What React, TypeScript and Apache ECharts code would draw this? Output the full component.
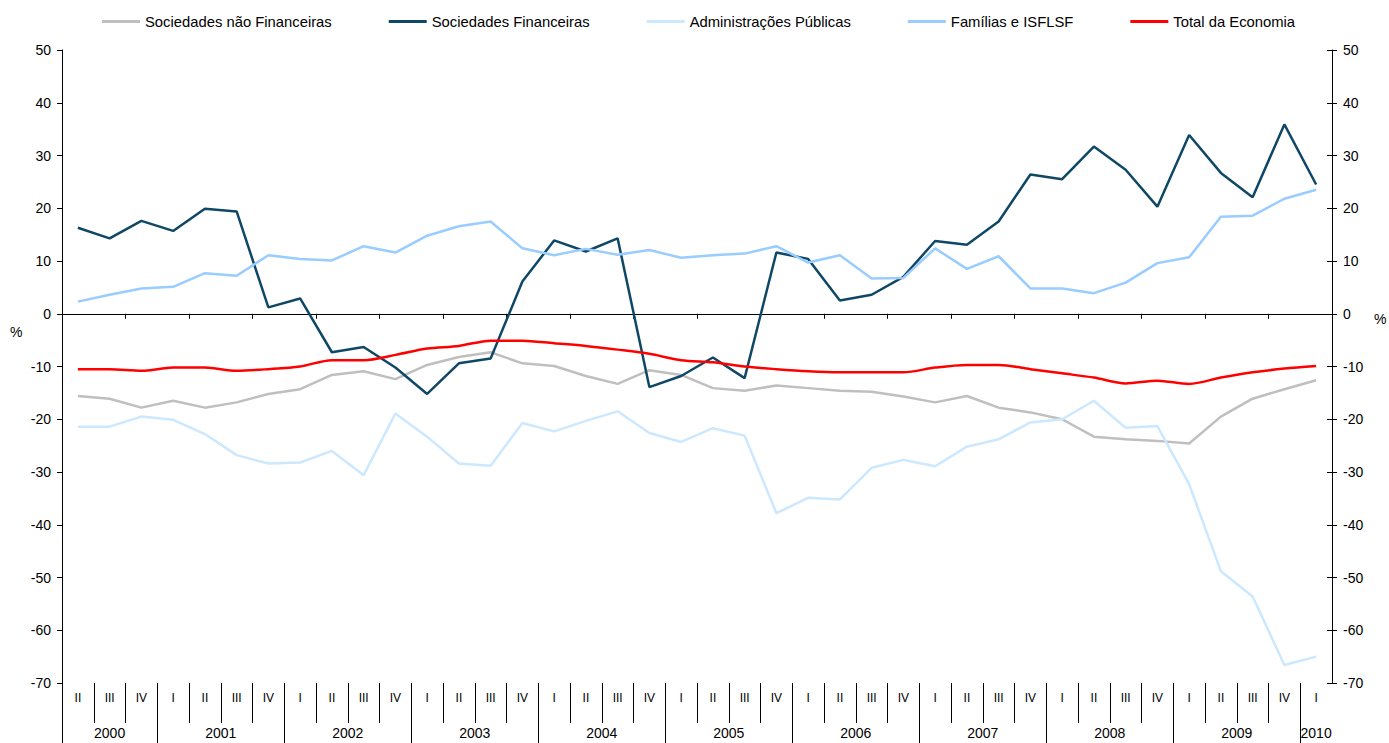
import React, { useEffect, useRef } from "react";
import * as echarts from "echarts";

const categories = [
  "2000 II", "2000 III", "2000 IV",
  "2001 I", "2001 II", "2001 III", "2001 IV",
  "2002 I", "2002 II", "2002 III", "2002 IV",
  "2003 I", "2003 II", "2003 III", "2003 IV",
  "2004 I", "2004 II", "2004 III", "2004 IV",
  "2005 I", "2005 II", "2005 III", "2005 IV",
  "2006 I", "2006 II", "2006 III", "2006 IV",
  "2007 I", "2007 II", "2007 III", "2007 IV",
  "2008 I", "2008 II", "2008 III", "2008 IV",
  "2009 I", "2009 II", "2009 III", "2009 IV",
  "2010 I",
];

const sociedadesNaoFinanceiras = [
  -15.6, -16.1, -17.8, -16.5, -17.8, -16.8, -15.2, -14.3, -11.6, -10.9,
  -12.4, -9.7, -8.2, -7.3, -9.4, -9.9, -11.8, -13.3, -10.7, -11.6,
  -14.1, -14.6, -13.6, -14.1, -14.6, -14.8, -15.7, -16.8, -15.6, -17.8,
  -18.7, -20.0, -23.3, -23.8, -24.1, -24.6, -19.5, -16.1, -14.3, -12.6,
];

const sociedadesFinanceiras = [
  16.3, 14.3, 17.6, 15.7, 19.9, 19.4, 1.2, 2.9, -7.3, -6.3,
  -10.2, -15.2, -9.4, -8.5, 6.1, 13.9, 11.8, 14.3, -13.9, -11.8,
  -8.3, -12.2, 11.6, 10.4, 2.5, 3.6, 7.0, 13.8, 13.1, 17.5,
  26.4, 25.5, 31.7, 27.3, 20.3, 33.9, 26.7, 22.1, 35.9, 24.5,
];

const administracoesPublicas = [
  -21.4, -21.4, -19.5, -20.1, -22.8, -26.8, -28.4, -28.2, -26.0, -30.6,
  -18.9, -23.3, -28.4, -28.8, -20.7, -22.3, -20.3, -18.5, -22.6, -24.3,
  -21.7, -23.1, -37.8, -34.9, -35.2, -29.2, -27.7, -28.9, -25.2, -23.8,
  -20.6, -20.0, -16.5, -21.6, -21.3, -32.3, -48.8, -53.6, -66.6, -65.0,
];

const familiasIsflsf = [
  2.3, 3.6, 4.8, 5.1, 7.7, 7.2, 11.1, 10.4, 10.1, 12.8,
  11.6, 14.8, 16.6, 17.5, 12.4, 11.1, 12.3, 11.2, 12.1, 10.6,
  11.1, 11.4, 12.8, 9.7, 11.1, 6.7, 6.8, 12.4, 8.5, 10.9,
  4.8, 4.8, 3.9, 5.9, 9.6, 10.7, 18.4, 18.6, 21.8, 23.5,
];

const totalEconomia = [
  -10.5, -10.5, -10.8, -10.2, -10.2, -10.8, -10.5, -10.0, -8.8, -8.8,
  -7.8, -6.6, -6.1, -5.1, -5.1, -5.6, -6.1, -6.8, -7.6, -8.8,
  -9.2, -10.0, -10.5, -10.9, -11.1, -11.1, -11.1, -10.2, -9.7, -9.7,
  -10.5, -11.3, -12.1, -13.2, -12.7, -13.3, -12.1, -11.1, -10.4, -9.9,
];

const seriesNames = [
  "Sociedades não Financeiras",
  "Sociedades Financeiras",
  "Administrações Públicas",
  "Famílias e ISFLSF",
  "Total da Economia",
];
const seriesColors = ["#BFBFBF", "#0F4866", "#CCE8FF", "#99CCFF", "#FF0000"];

const yTicksMin = -70;
const yTicksMax = 50;
const yTicksStep = 10;

export default function App() {
  const ref = useRef<HTMLDivElement>(null);

  useEffect(() => {
    if (!ref.current) return;
    const chart = echarts.init(ref.current, undefined, { renderer: "svg" });

    // Half-quarter grid (81 points) used for the two-level bottom axis
    const n = categories.length;
    const quarterHalf: string[] = [];
    const yearHalf: string[] = [];
    for (let k = 0; k <= 2 * n; k++) {
      quarterHalf.push(k % 2 === 1 ? categories[(k - 1) / 2].split(" ")[1] : "");
      yearHalf.push("");
    }
    const yearBoundaries = new Set<number>();
    let s = 0;
    while (s < n) {
      const yr = categories[s].split(" ")[0];
      let c = 0;
      while (s + c < n && categories[s + c].split(" ")[0] === yr) c++;
      yearBoundaries.add(2 * s);
      yearHalf[2 * s + c] = yr;
      s += c;
    }

    const seriesData = [
      sociedadesNaoFinanceiras,
      sociedadesFinanceiras,
      administracoesPublicas,
      familiasIsflsf,
      totalEconomia,
    ];

    const fontFamily = "Liberation Sans, Arial, sans-serif";
    const axisFont = { fontFamily, color: "#000" };

    chart.setOption({
      animation: false,
      backgroundColor: "#fff",
      textStyle: { fontFamily },
      grid: { left: 62, right: 57, top: 50, bottom: 60, containLabel: false },
      legend: {
        left: 97,
        top: 9,
        icon: "rect",
        itemWidth: 38,
        itemHeight: 3,
        itemGap: 57,
        textStyle: { fontSize: 14.8, color: "#000", fontFamily },
        data: seriesNames,
      },
      xAxis: [
        {
          type: "category",
          data: categories,
          boundaryGap: true,
          axisLine: { show: true, onZero: true, lineStyle: { color: "#000", width: 1 } },
          axisTick: { show: true, length: 5, lineStyle: { color: "#000" } },
          axisLabel: { show: false },
          splitLine: { show: false },
        },
        {
          type: "category",
          data: quarterHalf,
          boundaryGap: false,
          position: "bottom",
          axisLine: { show: false, onZero: false },
          axisTick: {
            show: true,
            length: 40,
            interval: (idx: number) => idx % 2 === 0 && idx < 2 * n,
            lineStyle: { color: "#000" },
          },
          axisLabel: { show: true, interval: 0, margin: 9, fontSize: 12, ...axisFont },
          splitLine: { show: false },
        },
        {
          type: "category",
          data: yearHalf,
          boundaryGap: false,
          position: "bottom",
          axisLine: { show: false, onZero: false },
          axisTick: {
            show: true,
            length: 60,
            interval: (idx: number) => yearBoundaries.has(idx),
            lineStyle: { color: "#000" },
          },
          axisLabel: { show: true, interval: 0, margin: 43, fontSize: 14, ...axisFont },
          splitLine: { show: false },
        },
      ],
      yAxis: [
        {
          type: "value",
          position: "left",
          min: yTicksMin,
          max: yTicksMax,
          interval: yTicksStep,
          axisLine: { show: true, lineStyle: { color: "#000" } },
          axisTick: { show: true, length: 5, lineStyle: { color: "#000" } },
          axisLabel: { fontSize: 14, margin: 11, ...axisFont },
          splitLine: { show: false },
        },
        {
          type: "value",
          position: "right",
          min: yTicksMin,
          max: yTicksMax,
          interval: yTicksStep,
          axisLine: { show: true, lineStyle: { color: "#000" } },
          axisTick: { show: true, length: 5, lineStyle: { color: "#000" } },
          axisLabel: { fontSize: 14, margin: 11, ...axisFont },
          splitLine: { show: false },
        },
        {
          type: "value",
          position: "right",
          min: yTicksMin,
          max: yTicksMax,
          interval: yTicksStep,
          axisLine: { show: false },
          axisTick: { show: true, inside: true, length: 5, lineStyle: { color: "#000" } },
          axisLabel: { show: false },
          splitLine: { show: false },
        },
      ],
      graphic: [
        {
          type: "text",
          left: 10,
          top: 325,
          style: { text: "%", fontSize: 14, fill: "#000", fontFamily },
        },
        {
          type: "text",
          left: 1374,
          top: 312,
          style: { text: "%", fontSize: 14, fill: "#000", fontFamily },
        },
      ],
      series: seriesNames.map((name, i) => ({
        name,
        type: "line",
        xAxisIndex: 0,
        yAxisIndex: 0,
        data: seriesData[i],
        symbol: "none",
        showSymbol: false,
        smooth: i === 4 ? 0.3 : false,
        lineStyle: { color: seriesColors[i], width: 2.5 },
        itemStyle: { color: seriesColors[i] },
        emphasis: { disabled: true },
      })),
    });

    return () => chart.dispose();
  }, []);

  return (
    <div
      ref={ref}
      style={{ position: "fixed", left: 0, top: 0, width: 1389, height: 743, background: "#fff" }}
    />
  );
}
